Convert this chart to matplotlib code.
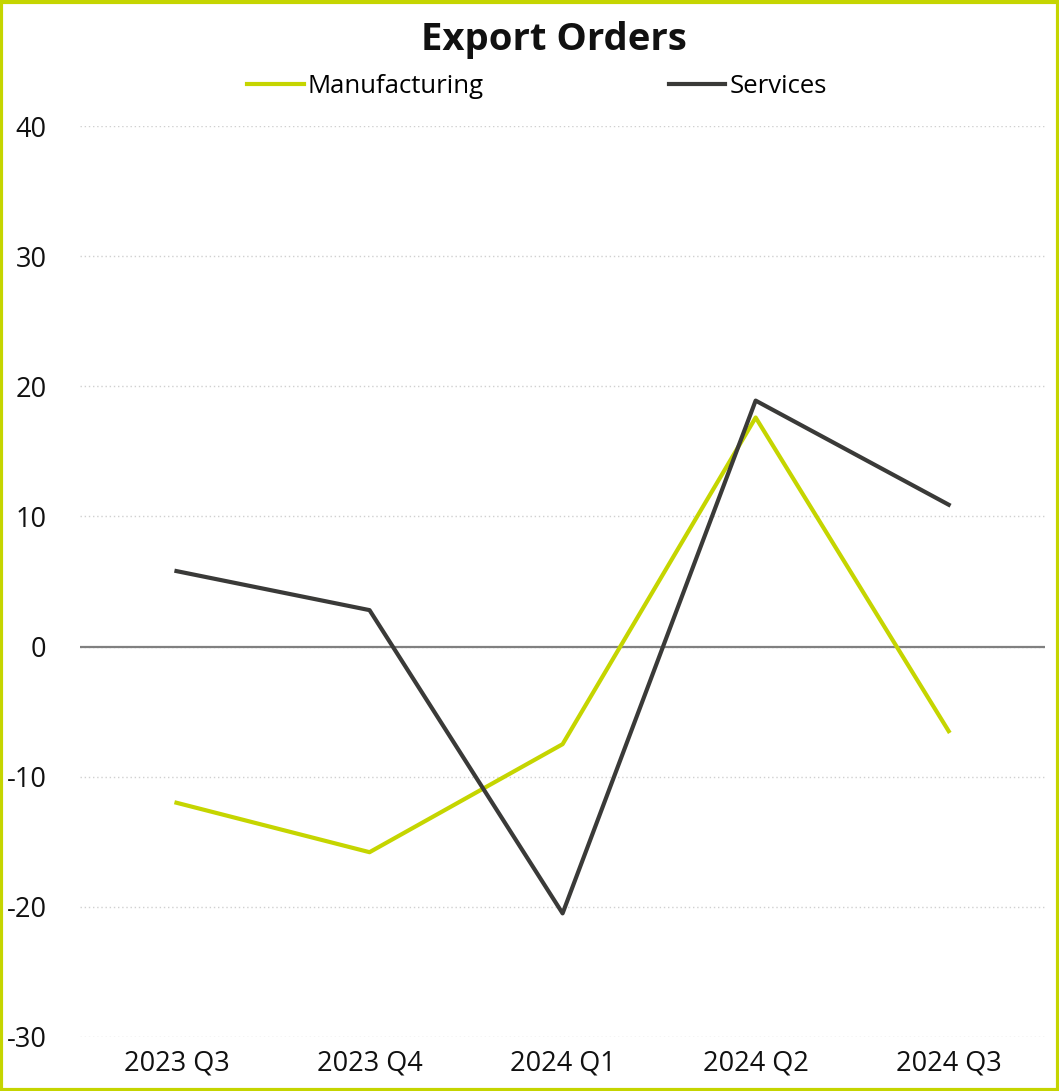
import matplotlib
matplotlib.use('Agg')
import matplotlib.pyplot as plt
from matplotlib.patches import Rectangle

plt.rcParams['font.family'] = ['Open Sans', 'DejaVu Sans']
plt.rcParams['axes.unicode_minus'] = False

quarters = ['2023 Q3', '2023 Q4', '2024 Q1', '2024 Q2', '2024 Q3']
manufacturing = [-12.0, -15.8, -7.5, 17.6, -6.5]
services = [5.8, 2.8, -20.5, 18.9, 10.9]
y_ticks = [-30, -20, -10, 0, 10, 20, 30, 40]

lime = '#c5d500'
dark = '#3a3a38'

fig = plt.figure(figsize=(10.59, 10.91), dpi=100)
ax = fig.add_axes([0.0755, 0.0495, 0.9115, 0.835])

x = list(range(len(quarters)))
ax.plot(x, manufacturing, color=lime, lw=3, label='Manufacturing', zorder=3)
ax.plot(x, services, color=dark, lw=3, label='Services', zorder=4)

ax.set_xlim(-0.5, len(quarters) - 0.5)
ax.set_ylim(-30, 40)
ax.set_yticks(y_ticks)
ax.set_xticks(x)
ax.set_xticklabels(quarters)
ax.tick_params(length=0, labelsize=19.5, colors='#111111')
ax.tick_params(axis='y', pad=24)
ax.tick_params(axis='x', pad=9)
for lbl in ax.get_yticklabels():
    lbl.set_horizontalalignment('right')

ax.grid(axis='y', linestyle=(0, (1, 2)), color='#d0d0d0', lw=1)
ax.axhline(0, color='#808080', lw=1.6, zorder=2)
for s in ax.spines.values():
    s.set_visible(False)

fig.text(0.523, 0.963, 'Export Orders', ha='center', va='center',
         fontsize=27.5, fontweight='bold', color='#111111')
fig.legend(loc='center', bbox_to_anchor=(0.507, 0.921), ncol=2, frameon=False,
           fontsize=18.5, handlelength=2.2, handletextpad=0.15, columnspacing=7.2)

# lime frame round the whole figure
fig.patches.append(Rectangle((0.001, 0.001), 0.998, 0.997, transform=fig.transFigure,
                             fill=False, edgecolor=lime, lw=3))

plt.savefig('out.png', dpi=100)
